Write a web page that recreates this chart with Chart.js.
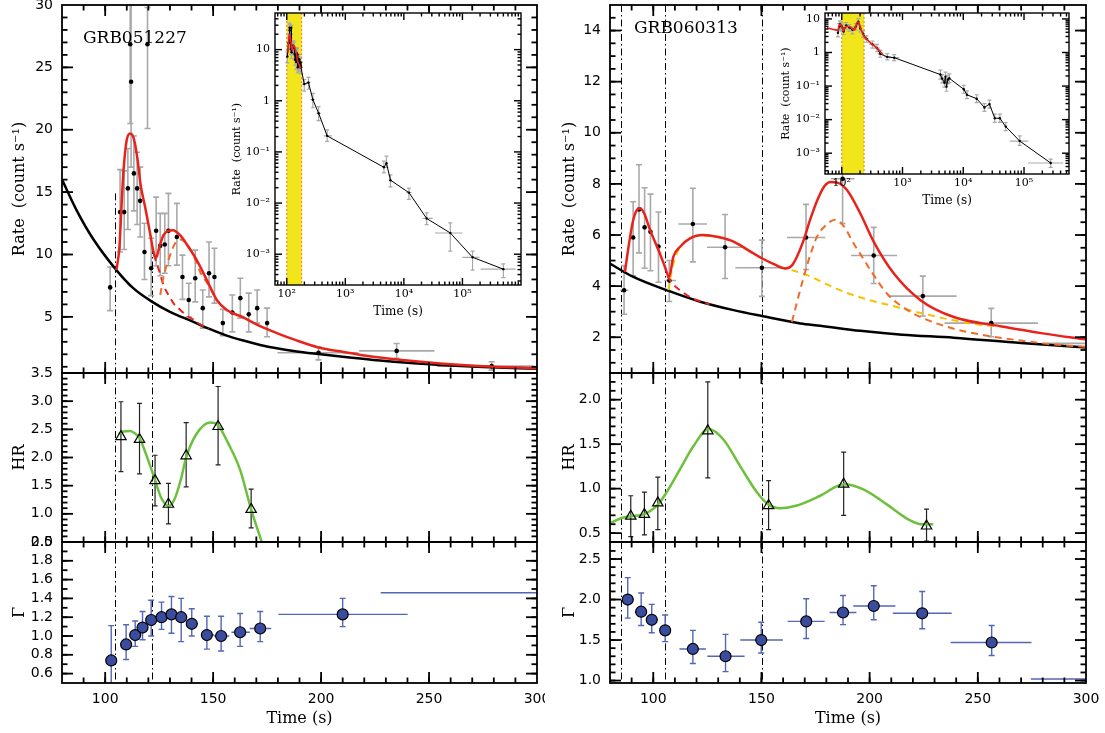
<!DOCTYPE html>
<html>
<head>
<meta charset="utf-8">
<script src="https://cdn.jsdelivr.net/npm/chart.js@4.4.0/dist/chart.umd.min.js"></script>
<style>
  body { margin: 0; background: #fff; width: 1105px; height: 733px; overflow: hidden; position: relative; }
  canvas { position: absolute; }
  .grb { position: absolute; font-family: 'DejaVu Serif'; font-size: 17px; line-height: 20px; color: #000; }
</style>
</head>
<body>
<canvas id="rateA" width="545" height="733" style="left:0;top:0"></canvas>
<canvas id="hrA" width="545" height="733" style="left:0;top:0"></canvas>
<canvas id="gamA" width="545" height="733" style="left:0;top:0"></canvas>
<canvas id="rateB" width="560" height="733" style="left:545px;top:0"></canvas>
<canvas id="hrB" width="560" height="733" style="left:545px;top:0"></canvas>
<canvas id="gamB" width="560" height="733" style="left:545px;top:0"></canvas>
<canvas id="insetA" width="300" height="315" style="left:228px;top:8px"></canvas>
<canvas id="insetB" width="310" height="200" style="left:770px;top:8px"></canvas>
<div class="grb" style="left:83px;top:27px">GRB051227</div>
<div class="grb" style="left:634px;top:17px">GRB060313</div>
<script>
// ---------- shared ticks ----------
var timeTicks = [100, 150, 200, 250, 300];
var logTimeTicks = [1e2, 1e3, 1e4, 1e5];
var logTimeLabels = ['10²', '10³', '10⁴', '10⁵'];
var logRateTicks = [1e-3, 1e-2, 1e-1, 1, 10];
var logRateLabels = ['10⁻³', '10⁻²', '10⁻¹', '1', '10'];

// ---------- GRB051227 (left) ----------
var rateTicksA = [5, 10, 15, 20, 25, 30];
var hrTicksA = [0.5, 1.0, 1.5, 2.0, 2.5, 3.0, 3.5];
var gamTicksA = [0.6, 0.8, 1.0, 1.2, 1.4, 1.6, 1.8, 2.0];
var cutsA = [104.6, 121.8];
var cutTopA = [14.9, 10.6];
var bandA = [100, 180];

var rateTA = [102.3, 106.9, 108.8, 110.5, 111.6, 112.0, 113.3, 114.8, 116.2, 118.2, 119.6, 121.3, 123.6, 125.5, 127.6, 129.3, 133.2, 135.8, 138.7, 141.7, 145.2, 148.1, 150.6, 154.5, 158.9, 162.6, 166.5, 170.4, 175.0, 198.8, 235.0, 279.0];
var rateA = [7.36, 13.4, 13.4, 15.3, 26.85, 23.85, 16.5, 15.3, 14.3, 10.2, 26.85, 8.9, 11.9, 10.7, 10.8, 11.9, 11.4, 8.2, 6.35, 8.1, 5.7, 8.5, 8.2, 4.5, 5.35, 6.5, 5.2, 5.7, 4.5, 2.12, 2.27, 1.05];
var rateHiA = [9.0, 16.8, 16.7, 18.5, 33, 31, 19.5, 18.2, 17.0, 12.5, 29.8, 11.3, 14.6, 13.3, 13.3, 14.9, 14.1, 9.95, 7.7, 10.35, 7.15, 11.0, 10.5, 5.6, 6.75, 8.1, 6.9, 7.15, 5.7, 2.6, 2.87, 1.4];
var rateLoA = [5.5, 10.2, 10.4, 12.0, 20.5, 17.0, 13.5, 12.4, 11.4, 8.0, 20.1, 6.7, 9.1, 8.3, 8.5, 9.1, 9.15, 6.4, 5.0, 6.2, 4.1, 6.6, 6.1, 3.5, 3.8, 4.9, 3.8, 4.5, 3.4, 1.55, 1.68, 0.73];
var rateTLoA = [null, null, null, null, null, null, null, null, null, null, null, null, null, null, null, null, null, null, null, null, null, null, null, null, null, null, null, null, null, 179.8, 217.6, 253.6];
var rateTHiA = [null, null, null, null, null, null, null, null, null, null, null, null, null, null, null, null, null, null, null, null, null, null, null, null, null, null, null, null, null, 217.3, 252.5, 298.3];

var bkgTA = [80, 86.9, 94.6, 105.2, 113, 121.8, 130, 140.9, 148, 156.3, 164, 171.8, 179.5, 188, 198.8, 210, 224.2, 240, 255.1, 275, 300];
var bkgA = [16.0, 13.5, 11.2, 8.75, 7.3, 6.2, 5.4, 4.6, 4.05, 3.5, 3.1, 2.75, 2.48, 2.25, 2.02, 1.8, 1.55, 1.33, 1.15, 0.98, 0.84];
var totTA = [105.2, 106.6, 107.4, 108.2, 108.9, 110.0, 111.6, 113.4, 115.0, 116.4, 118.5, 120.8, 122.4, 123.6, 125.1, 127.0, 129.3, 131.3, 134.7, 138.6, 142.4, 147.1, 151.7, 156.3, 164.0, 171.8, 179.5, 188.0, 198.8, 210.0, 224.2, 240.0, 255.1, 275.0, 300.0];
var totA = [8.75, 10.6, 13.3, 15.97, 17.6, 19.2, 19.7, 19.2, 17.6, 15.6, 13.8, 11.7, 10.2, 9.75, 10.6, 11.55, 11.9, 11.95, 11.55, 10.6, 9.55, 7.95, 6.35, 5.55, 4.95, 4.25, 3.7, 3.15, 2.55, 2.2, 1.81, 1.5, 1.27, 1.05, 0.88];
var p1TA = [122.5, 125, 127, 129.5, 131.6, 134.5, 137.8, 141, 144, 148];
var p1A = [10.0, 8.7, 7.55, 6.7, 6.1, 5.6, 5.1, 4.75, 4.4, 4.05];
var p2TA = [125.5, 127, 129.3, 132.4, 135, 138, 141, 144, 148, 151.7];
var p2A = [6.75, 8.2, 9.55, 10.9, 11.2, 10.8, 9.9, 8.6, 7.5, 6.3];

var lateTA = [350, 490, 4560, 5050, 5900, 12200, 24500, 62000, 149000, 500000];
var lateA = [0.57, 0.206, 0.05, 0.06, 0.028, 0.016, 0.005, 0.0026, 0.00087, 0.00051];
var lateHiA = [0.77, 0.27, 0.066, 0.083, 0.0357, 0.0196, 0.0064, 0.0041, 0.00115, 0.00065];
var lateLoA = [0.41, 0.16, 0.039, 0.05, 0.0207, 0.0118, 0.0038, 0.00115, 0.00049, 0.00035];
var lateTLoA = [320, 427, null, null, null, 11000, 21000, 34000, 100000, 204000];
var lateTHiA = [385, 590, null, null, null, 13500, 31000, 100000, 195000, 810000];

var hrTA = [107.3, 115.9, 123.1, 129.3, 137.5, 152.3, 167.6];
var hrA = [2.37, 2.32, 1.59, 1.17, 2.03, 2.55, 1.08];
var hrHiA = [2.99, 2.96, 2.04, 1.54, 2.62, 3.26, 1.44];
var hrLoA = [1.75, 1.71, 1.14, 0.82, 1.48, 1.87, 0.75];
var hrFitTA = [106.2, 108.5, 111.6, 114, 115.9, 119, 123.1, 126, 129.3, 132, 135, 137.5, 142, 148.6, 152.3, 157, 162.5, 167.6, 172.5, 175];
var hrFitA = [2.42, 2.46, 2.47, 2.42, 2.35, 2.05, 1.6, 1.28, 1.14, 1.25, 1.6, 2.0, 2.4, 2.62, 2.57, 2.25, 1.78, 1.08, 0.5, 0.2];

var gamTA = [102.8, 109.7, 113.9, 117.3, 121.3, 126.1, 130.7, 135.2, 140.1, 147.1, 153.7, 162.5, 171.8, 210, 310];
var gamA = [0.74, 0.91, 1.01, 1.09, 1.17, 1.20, 1.23, 1.20, 1.13, 1.01, 1.00, 1.04, 1.08, 1.23, 1.46];
var gamHiA = [1.11, 1.12, 1.16, 1.26, 1.38, 1.36, 1.42, 1.40, 1.29, 1.21, 1.21, 1.24, 1.26, 1.40, 1.7];
var gamLoA = [0.4, 0.75, 0.89, 0.96, 1.0, 1.07, 1.03, 0.94, 1.0, 0.86, 0.84, 0.89, 0.94, 1.10, 1.2];
var gamTLoA = [101, 107.5, 112, 115.5, 119.5, 124, 128.5, 133, 138, 144.5, 150.5, 158.5, 167, 180.2, 227.6];
var gamTHiA = [104.6, 112, 115.5, 119.5, 123.5, 128.5, 133, 138, 143, 150.5, 157.5, 167, 176.9, 240.1, 392];

// ---------- GRB060313 (right) ----------
var rateTicksB = [2, 4, 6, 8, 10, 12, 14];
var hrTicksB = [0.5, 1.0, 1.5, 2.0];
var gamTicksB = [1.0, 1.5, 2.0, 2.5];
var cutsB = [85.1, 105.3, 150.2];
var bandB = [100, 233];

var rateTB = [86.5, 90.7, 93.4, 96.0, 98.7, 102.4, 107.4, 118.3, 133.2, 150.2, 170.6, 187.5, 201.9, 224.6, 256.2, 320];
var rateB = [3.84, 5.9, 7.0, 6.3, 6.13, 5.55, 4.22, 6.43, 5.52, 4.72, 5.9, 8.2, 5.2, 3.61, 2.55, 1.76];
var rateHiB = [4.8, 7.3, 8.75, 7.85, 7.6, 6.9, 5.0, 7.83, 6.8, 5.8, 7.2, 10.2, 6.3, 4.39, 3.13, 2.2];
var rateLoB = [2.9, 4.4, 5.3, 4.7, 4.6, 4.15, 3.4, 4.95, 4.3, 3.6, 4.65, 6.45, 4.1, 2.83, 2.02, 1.35];
var rateTLoB = [84.7, null, null, null, null, null, 105.1, 111.6, 124.8, 137.9, 161.8, 182, 191.4, 208.8, 234.6, 282];
var rateTHiB = [88.5, null, null, null, null, null, 110.5, 124.8, 142.5, 161.8, 179.5, 193, 212.7, 240.2, 277.8, 358];

var bkgTB = [80, 90.8, 106.2, 121.7, 137.1, 150.2, 168, 177.2, 195.7, 215, 238.9, 270, 300];
var bkgB = [4.88, 4.36, 3.84, 3.39, 3.06, 2.83, 2.54, 2.45, 2.25, 2.1, 1.98, 1.77, 1.6];
var totTB = [86.9, 88.5, 90.5, 92.2, 93.9, 95.8, 98.5, 102.4, 105.2, 107.3, 109.3, 112.4, 117.0, 123.2, 130.0, 137.1, 144.0, 150.2, 156.0, 161.0, 164.0, 166.4, 169.5, 172.5, 176.0, 179.0, 182.0, 185.0, 189.6, 195.7, 201.9, 211.2, 223.5, 238.9, 262.0, 280.0, 300.0];
var totB = [4.55, 5.5, 6.5, 6.95, 7.05, 6.85, 6.2, 5.41, 4.8, 4.36, 5.15, 5.54, 5.87, 6.0, 5.92, 5.74, 5.4, 5.09, 4.85, 4.69, 4.8, 5.15, 5.8, 6.6, 7.4, 7.9, 8.07, 8.05, 7.75, 6.84, 5.73, 4.49, 3.45, 2.79, 2.41, 2.15, 1.91];
var p1TB = [106.5, 108, 110, 112.4, 116, 118.6, 122, 126];
var p1B = [4.4, 4.2, 4.0, 3.84, 3.62, 3.5, 3.4, 3.29];
var p2TB = [107.0, 108.6, 110.9, 115.5, 121.7, 130, 137.1, 144, 150.2, 156, 161, 165, 172, 180, 190, 200, 208, 223.5, 238.9, 250, 262];
var p2B = [3.84, 4.63, 5.28, 5.8, 5.97, 5.92, 5.74, 5.4, 5.09, 4.85, 4.69, 4.6, 4.4, 4.08, 3.72, 3.45, 3.28, 2.95, 2.66, 2.5, 2.41];
var p3TB = [164.1, 166.5, 169.5, 172.5, 175.6, 180, 184, 188, 192.6, 196.5, 200.4, 208.1, 215, 223.5, 238.9, 255, 269.8, 285, 300];
var p3B = [2.6, 3.4, 4.35, 5.2, 5.92, 6.4, 6.6, 6.35, 5.67, 5.15, 4.62, 3.7, 3.2, 2.79, 2.33, 2.05, 1.87, 1.72, 1.62];

var lateTB = [380, 430, 560, 730, 4200, 4500, 4900, 5100, 5300, 5600, 5900, 10200, 11500, 16600, 22300, 27000, 33000, 40000, 50000, 85000, 275000];
var lateB = [1.35, 0.91, 0.74, 0.70, 0.22, 0.166, 0.126, 0.19, 0.096, 0.158, 0.17, 0.08, 0.055, 0.042, 0.023, 0.029, 0.011, 0.011, 0.0062, 0.0023, 0.00051];
var lateHiB = [1.75, 1.15, 0.92, 0.86, 0.30, 0.22, 0.17, 0.26, 0.13, 0.21, 0.23, 0.105, 0.072, 0.055, 0.03, 0.038, 0.0145, 0.0145, 0.0082, 0.0033, 0.00067];
var lateLoB = [1.05, 0.72, 0.6, 0.57, 0.16, 0.125, 0.093, 0.14, 0.07, 0.118, 0.127, 0.061, 0.042, 0.032, 0.0175, 0.022, 0.0083, 0.0083, 0.0047, 0.0017, 0.00038];
var lateTLoB = [340, 390, 500, 600, null, null, null, null, null, null, null, null, null, null, null, null, null, null, null, 58000, 117000];
var lateTHiB = [420, 480, 640, 880, null, null, null, null, null, null, null, null, null, null, null, null, null, null, null, 117000, 440000];
var redPreTB = [57, 70, 80];
var redPreB = [5.4, 4.95, 4.7];
var redPostTB = [380, 480];
var redPostB = [1.35, 0.85];

var hrTB = [89.6, 95.9, 102.1, 125.2, 153.3, 188, 226.3];
var hrB = [0.69, 0.71, 0.84, 1.65, 0.81, 1.05, 0.58];
var hrHiB = [0.92, 0.96, 1.13, 2.2, 1.09, 1.41, 0.77];
var hrLoB = [0.46, 0.48, 0.54, 1.12, 0.54, 0.7, 0.41];
var hrFitTB = [80, 85.4, 90, 95.6, 102.1, 106.2, 112.4, 118.6, 125.5, 132.5, 140.2, 147.9, 153.3, 158.7, 166.4, 177.2, 188, 197.3, 208.1, 217.4, 224, 229.4];
var hrFitB = [0.61, 0.67, 0.69, 0.71, 0.82, 0.96, 1.22, 1.48, 1.67, 1.55, 1.25, 0.96, 0.82, 0.78, 0.81, 0.92, 1.05, 0.99, 0.82, 0.66, 0.6, 0.6];

var gamTB = [88.2, 94.4, 99.3, 105.5, 118.3, 133.4, 149.9, 170.7, 187.7, 201.9, 224.3, 256.4, 320];
var gamB = [2.0, 1.85, 1.75, 1.62, 1.39, 1.30, 1.50, 1.73, 1.84, 1.92, 1.83, 1.47, 1.02];
var gamHiB = [2.27, 2.08, 1.94, 1.81, 1.62, 1.57, 1.72, 2.01, 2.05, 2.17, 2.1, 1.68, 1.3];
var gamLoB = [1.77, 1.68, 1.59, 1.48, 1.21, 1.11, 1.34, 1.52, 1.69, 1.75, 1.64, 1.31, 0.8];
var gamTLoB = [85.5, 91.5, 97, 103, 112.1, 125, 140.2, 162.1, 181.5, 192.4, 210.7, 237.4, 274.5];
var gamTHiB = [91, 97, 102, 108, 124.3, 142.2, 159.9, 179.2, 193.9, 211.9, 237.9, 274.8, 365];

// ---------- colours ----------
var RED = '#e8231c', ORANGE = '#f06a2a', GOLD = '#f7c200', GREEN = '#6cc13c';
var GREY = '#a9a9a9', BLUE = '#3a4c9e', BLUE_ERR = '#5466b5', BAND = '#f1e51c';

Chart.defaults.font.family = 'DejaVu Sans';
Chart.defaults.font.size = 13;
Chart.defaults.color = '#000';
Chart.defaults.animation = false;
Chart.defaults.plugins.legend.display = false;
Chart.defaults.plugins.tooltip.enabled = false;
Chart.defaults.events = [];

function pts(t, v) { return t.map(function (x, i) { return {x: x, y: v[i]}; }); }
function steps(a, b, d) {
  var out = [];
  for (var v = Math.ceil(a / d - 1e-6) * d; v <= b + 1e-6; v += d) out.push(+v.toFixed(4));
  return out;
}
function logMinor(a, b) {
  var out = [];
  for (var e = Math.floor(Math.log10(a)); e <= Math.ceil(Math.log10(b)); e++)
    for (var k = 2; k <= 9; k++) { var v = k * Math.pow(10, e); if (v >= a && v <= b) out.push(v); }
  return out;
}

// per-canvas settings for the drawing helpers below
var extras = {};

// yellow band + white background of the insets
var band = {
  id: 'band',
  beforeDatasetsDraw: function (chart) {
    var o = (extras[chart.canvas.id] || {}).band;
    if (!o) return;
    var ctx = chart.ctx, a = chart.chartArea, x = chart.scales.x;
    ctx.save();
    ctx.fillStyle = '#fff';
    ctx.fillRect(a.left, a.top, a.right - a.left, a.bottom - a.top);
    var x1 = x.getPixelForValue(o[0]), x2 = x.getPixelForValue(o[1]);
    ctx.fillStyle = BAND;
    ctx.fillRect(x1, a.top, x2 - x1, a.bottom - a.top);
    ctx.strokeStyle = '#f07818';
    ctx.setLineDash([2, 2]);
    ctx.lineWidth = 1;
    [x1, x2].forEach(function (p) { ctx.beginPath(); ctx.moveTo(p, a.top); ctx.lineTo(p, a.bottom); ctx.stroke(); });
    ctx.restore();
  }
};

// dash-dot time markers
var cuts = {
  id: 'cuts',
  beforeDatasetsDraw: function (chart) {
    var o = (extras[chart.canvas.id] || {}).cuts;
    if (!o) return;
    var ctx = chart.ctx, a = chart.chartArea, x = chart.scales.x, y = chart.scales.y;
    ctx.save();
    ctx.strokeStyle = '#000';
    ctx.lineWidth = 1;
    ctx.setLineDash([7, 3, 1.5, 3]);
    o.t.forEach(function (t, i) {
      var px = Math.round(x.getPixelForValue(t)) + 0.5;
      var top = (o.top && o.top[i] != null) ? y.getPixelForValue(o.top[i]) : a.top;
      ctx.beginPath(); ctx.moveTo(px, top); ctx.lineTo(px, a.bottom); ctx.stroke();
    });
    ctx.restore();
  }
};

// error bars taken from dataset.err
var errorBars = {
  id: 'errorBars',
  beforeDatasetsDraw: function (chart) {
    var ctx = chart.ctx, a = chart.chartArea, x = chart.scales.x, y = chart.scales.y;
    ctx.save();
    ctx.beginPath(); ctx.rect(a.left, a.top, a.right - a.left, a.bottom - a.top); ctx.clip();
    chart.data.datasets.forEach(function (ds) {
      var e = ds.err;
      if (!e) return;
      ctx.strokeStyle = e.color;
      ctx.lineWidth = e.width;
      ds.data.forEach(function (p, i) {
        var px = x.getPixelForValue(p.x), py = y.getPixelForValue(p.y);
        ctx.beginPath();
        if (e.lo && e.lo[i] != null) {
          var y1 = y.getPixelForValue(e.lo[i]), y2 = y.getPixelForValue(e.hi[i]);
          ctx.moveTo(px, y1); ctx.lineTo(px, y2);
          ctx.moveTo(px - e.cap, y1); ctx.lineTo(px + e.cap, y1);
          ctx.moveTo(px - e.cap, y2); ctx.lineTo(px + e.cap, y2);
        }
        if (e.tLo && e.tLo[i] != null) {
          ctx.moveTo(x.getPixelForValue(e.tLo[i]), py); ctx.lineTo(x.getPixelForValue(e.tHi[i]), py);
        }
        ctx.stroke();
      });
    });
    ctx.restore();
  }
};

// box with inward ticks on all four sides
var frame = {
  id: 'frame',
  afterDraw: function (chart) {
    var o = (extras[chart.canvas.id] || {}).frame;
    if (!o) return;
    var ctx = chart.ctx, a = chart.chartArea, sx = chart.scales.x, sy = chart.scales.y;
    var L = a.left, R = a.right, T = a.top, B = a.bottom, w = o.tw;
    ctx.save();
    ctx.fillStyle = '#000';
    var groups = [[o.xMajor, o.len, 1], [o.xMinor, o.len / 2, 1], [o.yMajor, o.len, 0], [o.yMinor, o.len / 2, 0]];
    groups.forEach(function (g) {
      var vals = g[0], len = g[1];
      for (var i = 0; i < vals.length; i++) {
        if (g[2]) {
          var px = sx.getPixelForValue(vals[i]);
          if (!(px > L + 1 && px < R - 1)) continue;
          ctx.fillRect(px - w / 2, B - len, w, len);
          ctx.fillRect(px - w / 2, T, w, len);
        } else {
          var py = sy.getPixelForValue(vals[i]);
          if (!(py > T + 1 && py < B - 1)) continue;
          ctx.fillRect(L, py - w / 2, len, w);
          ctx.fillRect(R - len, py - w / 2, len, w);
        }
      }
    });
    ctx.strokeStyle = '#000';
    ctx.lineWidth = o.lw;
    ctx.strokeRect(L, T, R - L, B - T);
    ctx.restore();
  }
};
Chart.register(band, cuts, errorBars, frame);

function curve(t, v, color, dash, width) {
  return {data: pts(t, v), showLine: true, borderColor: color, borderWidth: width || 2.5,
    borderDash: dash || [], pointRadius: 0, cubicInterpolationMode: 'monotone', clip: 0};
}
function marks(t, v, err, style) {
  var ds = {data: pts(t, v), showLine: false, clip: 0, err: err};
  for (var k in style) ds[k] = style[k];
  return ds;
}

var colA = {w: 545, left: 62, right: 537, titlePad: 10};
var colB = {w: 560, left: 65, right: 541, titlePad: 15};
var rowTop = {top: 5, bottom: 373}, rowMid = {top: 373, bottom: 542}, rowBot = {top: 542, bottom: 683};

function xAxis(show) {
  return {
    type: 'linear', min: 80, max: 300, display: show,
    afterBuildTicks: function (s) { s.ticks = timeTicks.map(function (v) { return {value: v}; }); },
    afterFit: function (s) { if (show) s.height = 733 - rowBot.bottom; s.paddingLeft = 0; s.paddingRight = 0; },
    grid: {display: false, drawTicks: false}, border: {display: false},
    ticks: {padding: 8, maxRotation: 0, autoSkip: false, font: {size: 14}},
    title: {display: show, text: 'Time (s)', font: {family: 'DejaVu Serif', size: 16}, padding: {top: 0, bottom: 5}}
  };
}
function yAxis(col, min, max, ticks, digits, title) {
  return {
    type: 'linear', min: min, max: max,
    afterBuildTicks: function (s) { s.ticks = ticks.map(function (v) { return {value: v}; }); },
    afterFit: function (s) { s.width = col.left; s.paddingTop = 0; s.paddingBottom = 0; },
    grid: {display: false, drawTicks: false}, border: {display: false},
    ticks: {padding: 9, autoSkip: false, font: {size: 14}, callback: function (v) { return v.toFixed(digits); }},
    title: {display: true, text: title, font: {family: 'DejaVu Serif', size: 16}, padding: {top: col.titlePad, bottom: 0}}
  };
}
function panel(id, col, row, min, max, ticks, digits, title, yMinorStep, datasets, cutOpts) {
  var isBottom = row === rowBot;
  extras[id] = {
    cuts: cutOpts,
    frame: {xMajor: timeTicks, xMinor: steps(80, 300, 10), yMajor: ticks, yMinor: steps(min, max, yMinorStep), len: 11, tw: 1.8, lw: 1.8}
  };
  return new Chart(document.getElementById(id), {
    type: 'scatter',
    data: {datasets: datasets},
    options: {
      responsive: false, devicePixelRatio: 1,
      layout: {padding: {left: 0, top: row.top, right: col.w - col.right, bottom: isBottom ? 0 : 733 - row.bottom}},
      scales: {x: xAxis(isBottom), y: yAxis(col, min, max, ticks, digits, title)}
    }
  });
}

function rateSet(t, v, lo, hi, tLo, tHi) {
  return marks(t, v, {lo: lo, hi: hi, tLo: tLo, tHi: tHi, color: GREY, width: 1.6, cap: 3},
    {pointRadius: 2.3, pointBackgroundColor: '#000', pointBorderWidth: 0});
}
function hrSet(t, v, lo, hi) {
  return marks(t, v, {lo: lo, hi: hi, color: '#222', width: 1.2, cap: 2.5},
    {pointStyle: 'triangle', pointRadius: 6, pointBackgroundColor: 'rgba(255,255,255,0)', pointBorderColor: '#000', pointBorderWidth: 1.2});
}
function gamSet(t, v, lo, hi, tLo, tHi) {
  return marks(t, v, {lo: lo, hi: hi, tLo: tLo, tHi: tHi, color: BLUE_ERR, width: 1.4, cap: 3},
    {pointRadius: 5.5, pointBackgroundColor: BLUE, pointBorderColor: '#000', pointBorderWidth: 1.2});
}

// ---------- left column ----------
panel('rateA', colA, rowTop, 0.5, 30, rateTicksA, 0, 'Rate  (count s⁻¹)', 1, [
  curve(totTA, totA, RED),
  curve(p2TA, p2A, ORANGE, [7, 5], 2),
  curve(p1TA, p1A, RED, [7, 5], 2),
  curve(bkgTA, bkgA, '#000'),
  rateSet(rateTA, rateA, rateLoA, rateHiA, rateTLoA, rateTHiA)
], {t: cutsA, top: cutTopA});
panel('hrA', colA, rowMid, 0.5, 3.5, hrTicksA, 1, 'HR', 0.1, [
  hrSet(hrTA, hrA, hrLoA, hrHiA),
  curve(hrFitTA, hrFitA, GREEN)
], {t: cutsA});
panel('gamA', colA, rowBot, 0.5, 2.0, gamTicksA, 1, 'Γ', 0.1, [
  gamSet(gamTA, gamA, gamLoA, gamHiA, gamTLoA, gamTHiA)
], {t: cutsA});

// ---------- right column ----------
panel('rateB', colB, rowTop, 0.6, 15, rateTicksB, 0, 'Rate  (count s⁻¹)', 0.5, [
  curve(totTB, totB, RED),
  curve(p3TB, p3B, ORANGE, [7, 5], 2),
  curve(p2TB, p2B, GOLD, [7, 5], 2),
  curve(p1TB, p1B, RED, [7, 5], 2),
  curve(bkgTB, bkgB, '#000'),
  rateSet(rateTB, rateB, rateLoB, rateHiB, rateTLoB, rateTHiB)
], {t: cutsB});
panel('hrB', colB, rowMid, 0.4, 2.3, hrTicksB, 1, 'HR', 0.1, [
  hrSet(hrTB, hrB, hrLoB, hrHiB),
  curve(hrFitTB, hrFitB, GREEN)
], {t: cutsB});
panel('gamB', colB, rowBot, 0.97, 2.71, gamTicksB, 1, 'Γ', 0.1, [
  gamSet(gamTB, gamB, gamLoB, gamHiB, gamTLoB, gamTHiB)
], {t: cutsB});

// ---------- insets ----------
function inset(id, geo, xr, yr, bandRange, t, v, lo, hi, tLo, tHi, redT, redV) {
  extras[id] = {
    band: bandRange,
    frame: {xMajor: logTimeTicks, xMinor: logMinor(xr[0], xr[1]), yMajor: logRateTicks, yMinor: logMinor(yr[0], yr[1]), len: 7, tw: 1.4, lw: 1.4}
  };
  return new Chart(document.getElementById(id), {
    type: 'scatter',
    data: {datasets: [
      curve(redT, redV, RED, [], 1.6),
      marks(t, v, {lo: lo, hi: hi, tLo: tLo, tHi: tHi, color: GREY, width: 1.2, cap: 2},
        {showLine: true, borderColor: '#000', borderWidth: 1, pointRadius: 1.2, pointBackgroundColor: '#000', pointBorderWidth: 0})
    ]},
    options: {
      responsive: false, devicePixelRatio: 1,
      layout: {padding: {left: 0, top: geo.top, right: geo.right, bottom: 0}},
      scales: {
        x: {
          type: 'logarithmic', min: xr[0], max: xr[1],
          afterBuildTicks: function (s) { s.ticks = logTimeTicks.map(function (v) { return {value: v}; }); },
          afterFit: function (s) { s.height = geo.xh; s.paddingLeft = 0; s.paddingRight = 0; },
          grid: {display: false, drawTicks: false}, border: {display: false},
          ticks: {padding: 3, maxRotation: 0, autoSkip: false, font: {family: 'DejaVu Serif', size: 11},
            callback: function (v) { return logTimeLabels[logTimeTicks.indexOf(v)]; }},
          title: {display: true, text: 'Time (s)', font: {family: 'DejaVu Serif', size: 12}, padding: {top: 0, bottom: geo.xPad}}
        },
        y: {
          type: 'logarithmic', min: yr[0], max: yr[1],
          afterBuildTicks: function (s) { s.ticks = logRateTicks.map(function (v) { return {value: v}; }); },
          afterFit: function (s) { s.width = geo.yw; s.paddingTop = 0; s.paddingBottom = 0; },
          grid: {display: false, drawTicks: false}, border: {display: false},
          ticks: {padding: 5, autoSkip: false, font: {family: 'DejaVu Serif', size: 11},
            callback: function (v) { return logRateLabels[logRateTicks.indexOf(v)]; }},
          title: {display: true, text: 'Rate  (count s⁻¹)', font: {family: 'DejaVu Serif', size: 11}, padding: {top: geo.yPad, bottom: 0}}
        }
      }
    }
  });
}

var redInA = pts(totTA, totA).filter(function (p) { return p.x <= 175; });
inset('insetA', {top: 5, right: 7, xh: 38, yw: 47, xPad: 4, yPad: 3}, [63, 1e6], [2.5e-4, 52], bandA,
  rateTA.concat(lateTA), rateA.concat(lateA), rateLoA.concat(lateLoA), rateHiA.concat(lateHiA),
  rateTLoA.concat(lateTLoA), rateTHiA.concat(lateTHiA),
  redInA.map(function (p) { return p.x; }), redInA.map(function (p) { return p.y; }));

inset('insetB', {top: 5, right: 11, xh: 34, yw: 55, xPad: 0, yPad: 10}, [53, 5.5e5], [2.4e-4, 15], bandB,
  rateTB.concat(lateTB), rateB.concat(lateB), rateLoB.concat(lateLoB), rateHiB.concat(lateHiB),
  rateTLoB.concat(lateTLoB), rateTHiB.concat(lateTHiB),
  redPreTB.concat(totTB, redPostTB), redPreB.concat(totB, redPostB));
</script>
</body>
</html>
